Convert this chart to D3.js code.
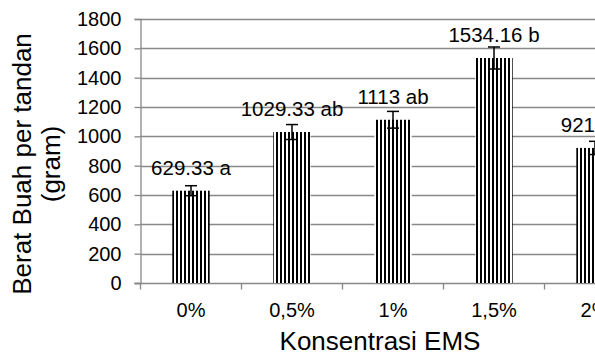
<!DOCTYPE html>
<html>
<head>
<meta charset="utf-8">
<script src="https://cdn.jsdelivr.net/npm/d3@7"></script>
<style>
  html, body { margin: 0; padding: 0; background: #ffffff; }
  svg { display: block; }
</style>
</head>
<body>
<script>
/* DATA */
var categories = ['0%', '0,5%', '1%', '1,5%', '2%'];
var values = [629.33, 1029.33, 1113, 1534.16, 921];
var errors = [34, 51, 57, 75, 45];
var labels = ['629.33 a', '1029.33 ab', '1113 ab', '1534.16 b', '921.3 a'];
var yTicks = [0, 200, 400, 600, 800, 1000, 1200, 1400, 1600, 1800];

var xTitle = 'Konsentrasi EMS';
var yTitleLines = ['Berat Buah per tandan', '(gram)'];

/* SIZES */
var width = 595;
var height = 356;
var plotLeft = 140.5;
var plotTop = 19;
var plotBottom = 283;
var bandWidth = 101;   // chart runs past the right edge, like the source
var gridColor = '#888888';
var fontFamily = 'Liberation Sans, Arial, sans-serif';

const svg = d3.select('body').append('svg')
    .attr('width', width)
    .attr('height', height);

// vertical stripe fill used by the bars
const pattern = svg.append('defs').append('pattern')
    .attr('id', 'stripes')
    .attr('patternUnits', 'userSpaceOnUse')
    .attr('width', 4)
    .attr('height', 8);
pattern.append('rect')
    .attr('width', 4).attr('height', 8).attr('fill', '#ffffff');
pattern.append('rect')
    .attr('width', 2).attr('height', 8).attr('fill', '#000000');

const x = d3.scaleBand()
    .domain(categories)
    .range([plotLeft, plotLeft + bandWidth * categories.length])
    .paddingInner(0.63)
    .paddingOuter(0.315);

const y = d3.scaleLinear()
    .domain([0, 1800])
    .range([plotBottom, plotTop]);

// gridlines
svg.append('g')
    .selectAll('line')
    .data(yTicks.filter(d => d > 0))
    .join('line')
    .attr('x1', plotLeft)
    .attr('x2', width)
    .attr('y1', d => Math.round(y(d)) + 0.5)
    .attr('y2', d => Math.round(y(d)) + 0.5)
    .attr('stroke', gridColor)
    .attr('stroke-width', 1.3);

// y axis
const yAxis = svg.append('g')
    .attr('transform', `translate(${plotLeft},0)`)
    .call(d3.axisLeft(y).tickValues(yTicks).tickFormat(d3.format('d')).tickSize(6).tickPadding(13));
yAxis.selectAll('path, line').attr('stroke', gridColor).attr('stroke-width', 1.3);
yAxis.selectAll('text')
    .style('font', `20px ${fontFamily}`)
    .attr('fill', '#000000');

// x axis, ticks sit between the categories
const xAxis = svg.append('g')
    .attr('transform', `translate(0,${plotBottom + 0.5})`);
xAxis.append('line')
    .attr('x1', plotLeft - 6)
    .attr('x2', width)
    .attr('stroke', gridColor)
    .attr('stroke-width', 1.3);
xAxis.selectAll('.tick')
    .data(d3.range(categories.length + 1))
    .join('line')
    .attr('class', 'tick')
    .attr('x1', i => plotLeft + i * bandWidth)
    .attr('x2', i => plotLeft + i * bandWidth)
    .attr('y1', 0)
    .attr('y2', 6)
    .attr('stroke', gridColor)
    .attr('stroke-width', 1.3);
xAxis.selectAll('.catLabel')
    .data(categories)
    .join('text')
    .attr('class', 'catLabel')
    .attr('x', d => x(d) + x.bandwidth() / 2)
    .attr('y', 33)
    .attr('text-anchor', 'middle')
    .style('font', `20px ${fontFamily}`)
    .text(d => d);

// bars
svg.append('g')
    .selectAll('rect')
    .data(values)
    .join('rect')
    .attr('x', (d, i) => x(categories[i]))
    .attr('y', d => y(d))
    .attr('width', x.bandwidth())
    .attr('height', d => y(0) - y(d))
    .attr('fill', 'url(#stripes)');

// error bars
const errGroup = svg.append('g')
    .attr('stroke', '#000000')
    .attr('stroke-width', 1.5);
values.forEach((v, i) => {
    const cx = x(categories[i]) + x.bandwidth() / 2;
    const hi = y(v + errors[i]);
    const lo = y(v - errors[i]);
    errGroup.append('line').attr('x1', cx).attr('x2', cx).attr('y1', hi).attr('y2', lo);
    errGroup.append('line').attr('x1', cx - 6).attr('x2', cx + 6).attr('y1', hi).attr('y2', hi);
    errGroup.append('line').attr('x1', cx - 6).attr('x2', cx + 6).attr('y1', lo).attr('y2', lo);
});

// data labels above each bar
svg.append('g')
    .selectAll('text')
    .data(values)
    .join('text')
    .attr('x', (d, i) => x(categories[i]) + x.bandwidth() / 2)
    .attr('y', d => y(d) - 16)
    .attr('text-anchor', 'middle')
    .style('font', `20.5px ${fontFamily}`)
    .attr('fill', '#000000')
    .text((d, i) => labels[i]);

// axis titles
svg.append('text')
    .attr('x', 380)
    .attr('y', 350)
    .attr('text-anchor', 'middle')
    .style('font', `26px ${fontFamily}`)
    .text(xTitle);

svg.append('g')
    .attr('transform', 'translate(0,164) rotate(-90)')
    .selectAll('text')
    .data(yTitleLines)
    .join('text')
    .attr('x', 0)
    .attr('y', (d, i) => 31 + i * 29)
    .attr('text-anchor', 'middle')
    .style('font', `26px ${fontFamily}`)
    .text(d => d);
</script>
</body>
</html>
